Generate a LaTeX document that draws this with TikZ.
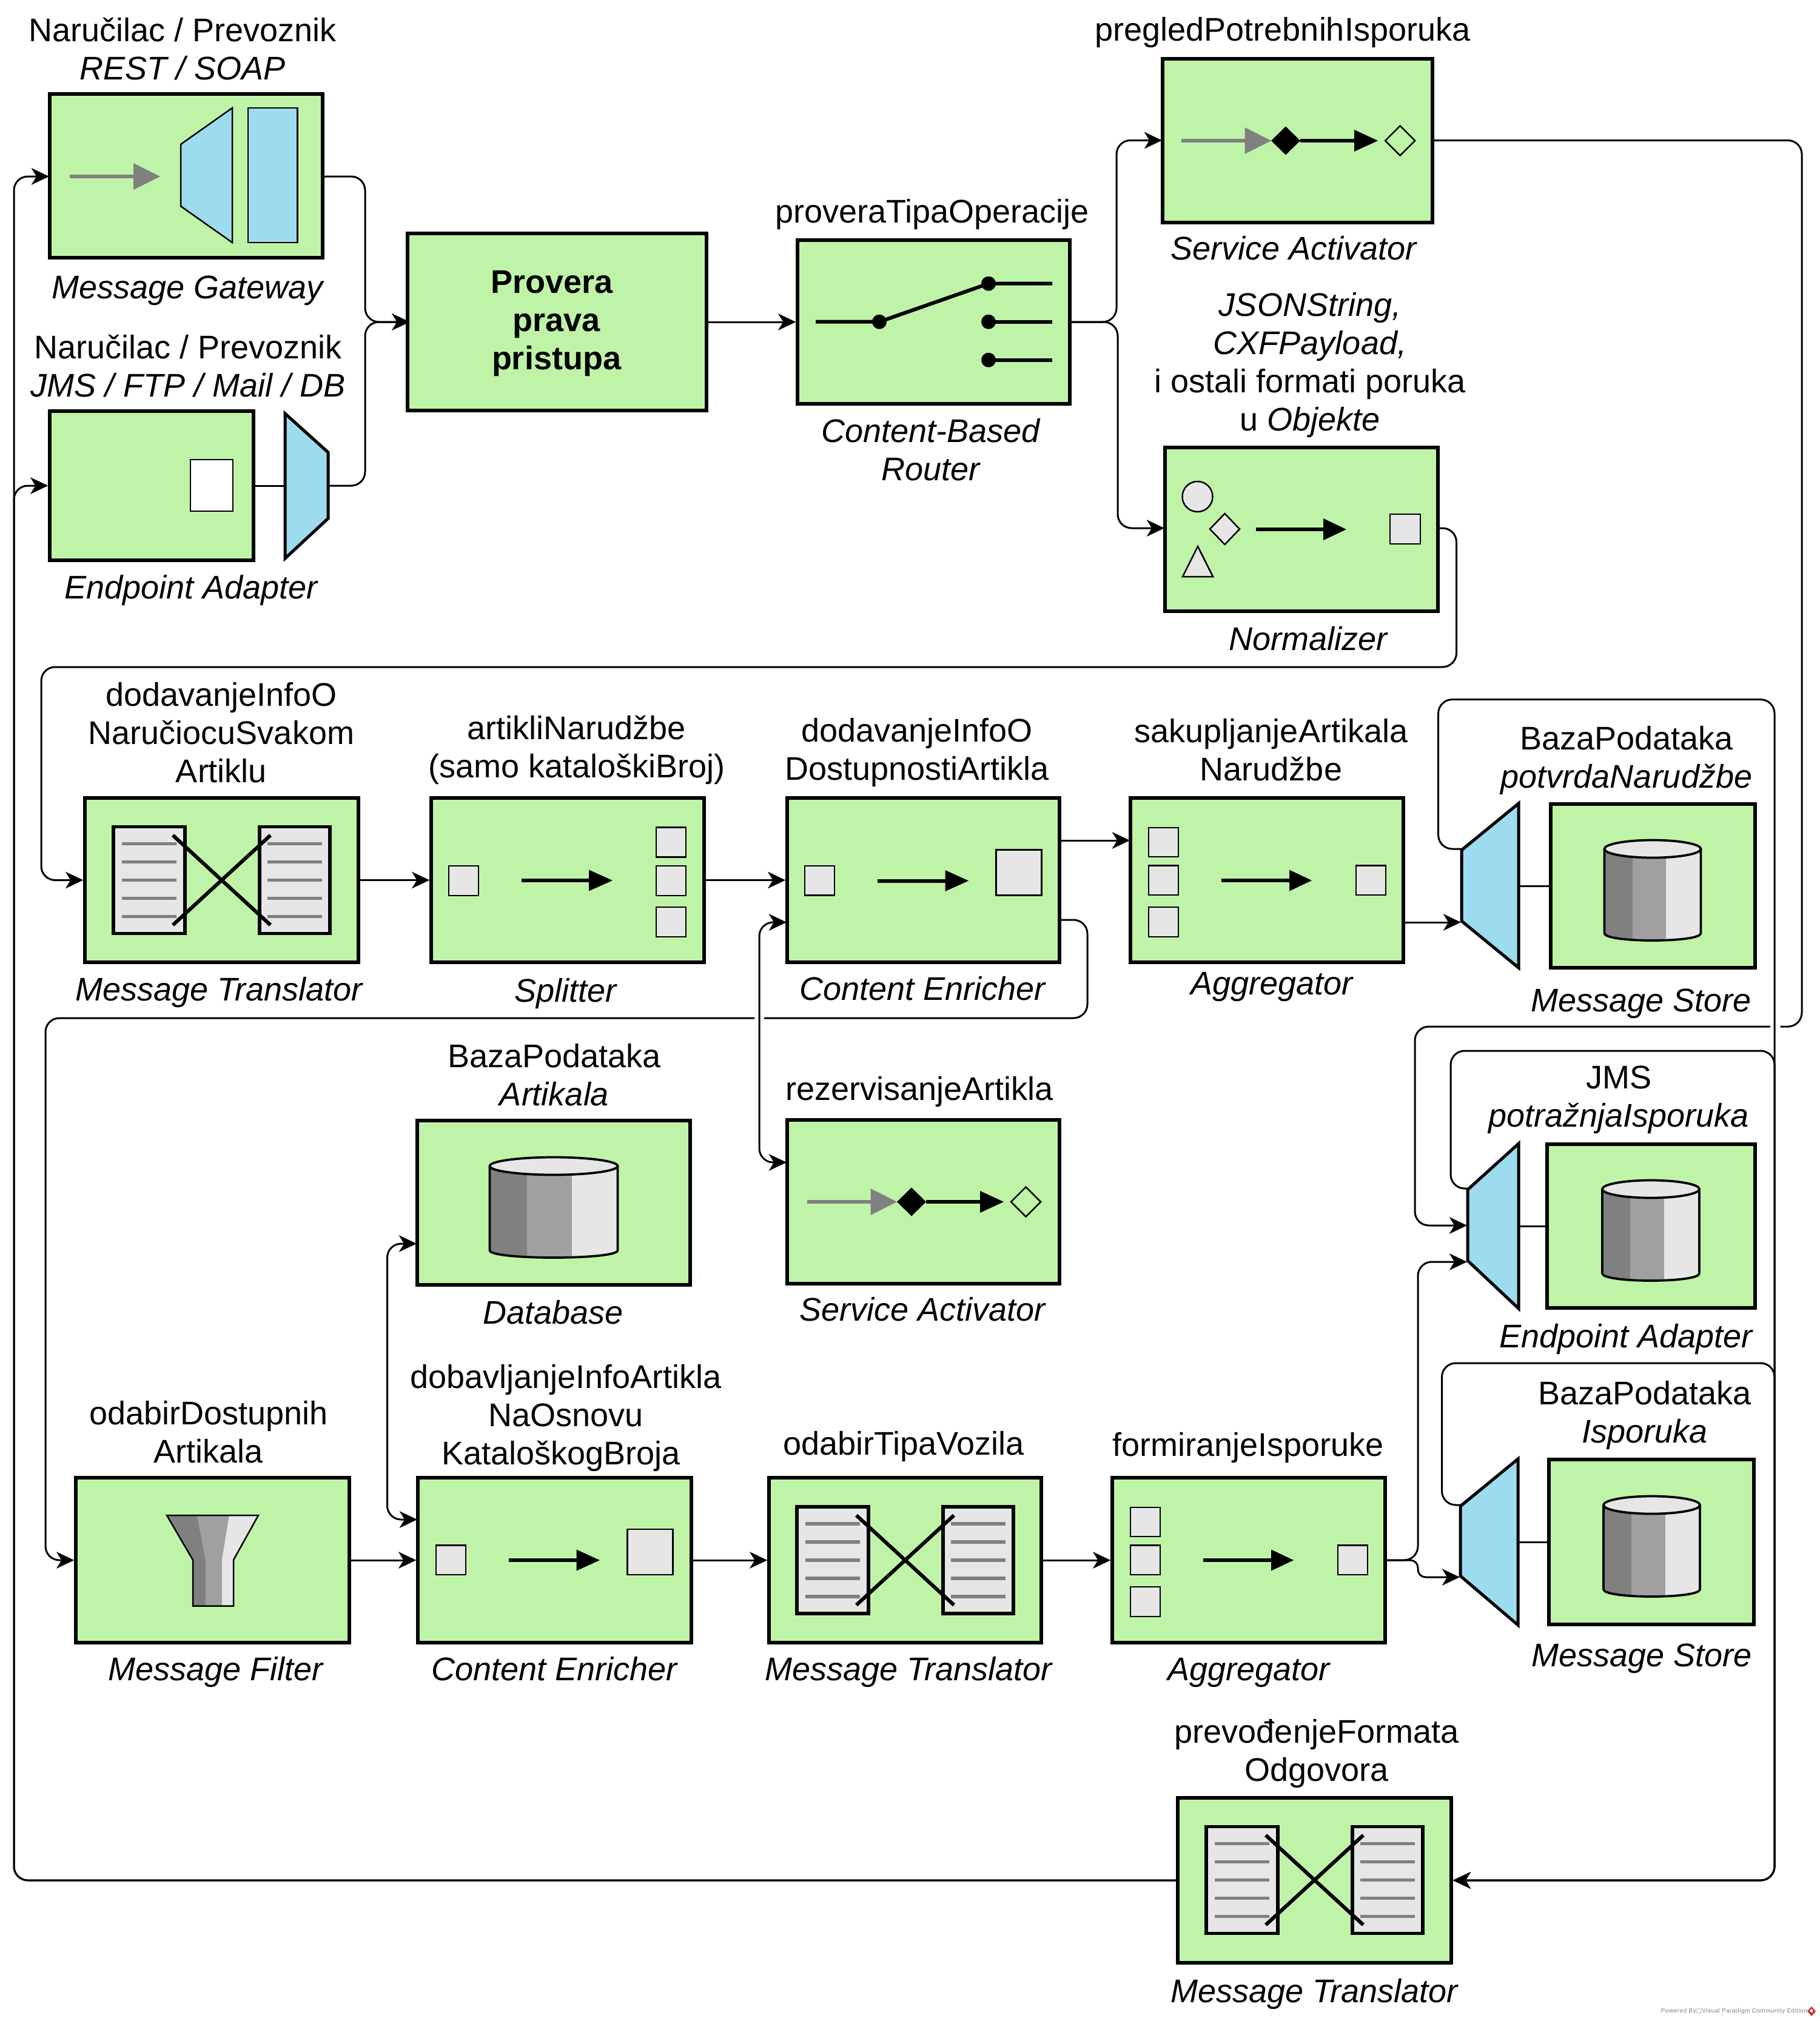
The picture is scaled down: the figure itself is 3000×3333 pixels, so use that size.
\documentclass[tikz,border=0pt]{standalone}
\usepackage{fontspec}
\setmainfont{Liberation Sans}
\newfontfamily\dejavufam{DejaVu Sans}
\newfontfamily\wmfont[LetterSpace=5]{Liberation Sans}
\usetikzlibrary{arrows.meta}
\definecolor{boxgreen}{HTML}{BFF4A8}
\definecolor{partblue}{HTML}{9DDBEF}
\definecolor{lightg}{HTML}{E6E6E6}
\definecolor{midg}{HTML}{A0A0A0}
\definecolor{darkg}{HTML}{808080}
\definecolor{logored}{HTML}{CC3333}
\newcommand{\lstruttop}{\rule{0pt}{15pt}}
\newcommand{\lstrutbot}{\rule[-3.84pt]{0pt}{3.84pt}}
\tikzset{
  eipbox/.style={draw=black,fill=boxgreen,line width=1.32pt,inner sep=0pt,outer sep=0.66pt},
  lbl/.style={inner sep=0pt,align=center,font=\fontsize{12.96}{15.12}\selectfont,
    execute at begin node=\lstruttop,execute at end node=\lstrutbot},
  conn/.style={draw=black,line width=0.72pt,rounded corners=5.5pt},
  plainline/.style={draw=black,line width=0.72pt},
  tip/.style={-{Stealth[length=7pt,width=6.6pt,inset=2pt]}},
  tips/.style={{Stealth[length=7pt,width=6.6pt,inset=2pt]}-{Stealth[length=7pt,width=6.6pt,inset=2pt]}},
  part/.style={draw=black,fill=lightg,line width=0.6pt},
  trapbig/.style={draw=black,fill=partblue,line width=1.2pt,miter limit=10},
}
\newcommand{\mybox}[5]{\node[eipbox,minimum width={(#4-#2-2)*0.24pt},minimum height={(#5-#3)*0.24pt}] (#1) at ({(#2+#4)/2},{(#3+#5)/2}) {};}
\newcommand{\lb}[4]{\node[lbl] (#1) at (#2,{#3-5}) {#4};}
\newcommand{\lbm}[4]{\node[lbl] (#1) at (#2,{#3+7.4}) {#4};}
% arrow: x1 x2 headstart y colour halfheight
\newcommand{\ikonArr}[6]{\draw[#5,line width=1.44pt] (#1,#4) -- (#3,#4); \fill[#5] (#3,{#4-#6}) -- (#2,#4) -- (#3,{#4+#6}) -- cycle;}
\newcommand{\sq}[4]{\draw[part] (#1,#2) rectangle (#3,#4);}
\newcommand{\ikonMT}[2]{\begin{scope}[shift={(#1,#2)}]
  \draw[draw=black,fill=lightg,line width=1.32pt] (-178.5,-88) rectangle (-60.5,88);
  \draw[draw=black,fill=lightg,line width=1.32pt] (62.5,-88) rectangle (178.5,88);
  \foreach \yy in {-60,-30,0,30,60}{
    \draw[darkg,line width=1.3pt] (-165,\yy) -- (-75,\yy);
    \draw[darkg,line width=1.3pt] (75,\yy) -- (165,\yy);}
  \draw[black,line width=1.44pt] (-80.5,-74) -- (80.5,74);
  \draw[black,line width=1.44pt] (80.5,-74) -- (-80.5,74);
\end{scope}}
\newcommand{\ikonSA}[2]{\begin{scope}[shift={(#1,#2)}]
  \ikonArr{-191.5}{-43.5}{-87}{0}{darkg}{22}
  \fill[black] (-43.5,0) -- (-19.5,-23.5) -- (4.5,0) -- (-19.5,23.5) -- cycle;
  \ikonArr{4.5}{132.5}{93.5}{0}{black}{18}
  \draw[black,line width=0.6pt] (144.5,0) -- (169,-24.5) -- (193.5,0) -- (169,24.5) -- cycle;
\end{scope}}
\newcommand{\ikonAgg}[2]{\begin{scope}[shift={(#1,#2)}]
  \sq{-195}{-87}{-146}{-39}\sq{-195}{-24.5}{-146}{24}\sq{-195}{44}{-146}{93}
  \ikonArr{-75}{74}{37}{0}{black}{17.5}
  \sq{147}{-24.5}{196}{24}
\end{scope}}
\newcommand{\ikonCE}[2]{\begin{scope}[shift={(#1,#2)}]
  \sq{-195.5}{-24.5}{-146.5}{24}
  \ikonArr{-75.5}{74.5}{36}{0}{black}{17.5}
  \sq{120}{-51}{195}{24}
\end{scope}}
\newcommand{\ikonCyl}[3]{\begin{scope}[shift={(#1,#2)}]
  \begin{scope}
    \clip (-#3,-61) -- (-#3,78) .. controls (-#3,94) and (#3,94) .. (#3,78) -- (#3,-61) -- cycle;
    \fill[darkg] (-#3,-80) rectangle ({-#3+0.58*#3},100);
    \fill[midg] ({-#3+0.58*#3},-80) rectangle ({-#3+1.28*#3},100);
    \fill[lightg] ({-#3+1.28*#3},-80) rectangle (#3,100);
  \end{scope}
  \draw[black,line width=0.9pt] (-#3,-61) -- (-#3,78) .. controls (-#3,94) and (#3,94) .. (#3,78) -- (#3,-61);
  \draw[black,fill=lightg,line width=0.9pt] (0,-61) ellipse [x radius=#3,y radius=14.5];
\end{scope}}
\begin{document}
\begin{tikzpicture}[x=0.24pt,y=-0.24pt]
\useasboundingbox (0,0) rectangle (3000,3333);
\fill[white] (0,0) rectangle (3000,3333);
% ---------- boxes
\mybox{gw}{81}{155}{533}{425}
\mybox{prov}{671}{385}{1166}{677}
\mybox{cbr}{1314}{396}{1765}{666}
\mybox{sao}{1916}{97}{2363}{367}
\mybox{norm}{1920}{738}{2372}{1008}
\mybox{ep}{81}{678}{419}{924}
\mybox{mto}{139}{1316}{592}{1587}
\mybox{spl}{710}{1316}{1162}{1587}
\mybox{ceo}{1297}{1316}{1748}{1587}
\mybox{ago}{1863}{1316}{2315}{1587}
\mybox{mso}{2556}{1326}{2895}{1596}
\mybox{dbb}{687}{1848}{1139}{2119}
\mybox{sat}{1297}{1847}{1748}{2117}
\mybox{adb}{2550}{1887}{2895}{2157}
\mybox{flt}{124}{2437}{577}{2709}
\mybox{cet}{688}{2437}{1141}{2709}
\mybox{mtt}{1267}{2437}{1718}{2709}
\mybox{agt}{1833}{2437}{2285}{2709}
\mybox{mst}{2553}{2407}{2893}{2679}
\mybox{mtf}{1941}{2965}{2394}{3237}
% ---------- gateway icon
\ikonArr{115}{264}{220}{291}{darkg}{22}
\draw[draw=black,fill=partblue,line width=0.6pt] (298,238) -- (383,178) -- (383,400) -- (298,340) -- cycle;
\draw[draw=black,fill=partblue,line width=0.6pt] (409,178) rectangle (490.5,400);
% endpoint icon
\draw[draw=black,fill=white,line width=0.6pt] (314,758) rectangle (384,843);
\draw[trapbig] (470,682) -- (541,746) -- (541,855) -- (470,921) -- cycle;
\coordinate (epout) at (543,801);
\coordinate (epin) at (470,801);
% router icon
\draw[black,line width=1.44pt] (1345,530.7) -- (1450,530.7) -- (1630,467.7) -- (1735,467.7);
\draw[black,line width=1.44pt] (1630,530.7) -- (1735,530.7);
\draw[black,line width=1.44pt] (1630,593.7) -- (1735,593.7);
\foreach \px/\py in {1450/530.7,1630/467.7,1630/530.7,1630/593.7}{\fill[black] (\px,\py) circle [radius=12];}
% service activators
\ikonSA{2139.5}{232}
\ikonSA{1522.5}{1982}
% normalizer
\draw[part] (1974.5,819) ellipse [x radius=25,y radius=25];
\draw[part] (1995,872.5) -- (2019.5,847) -- (2044,872.5) -- (2019.5,898) -- cycle;
\draw[part] (1975,901) -- (2000,951) -- (1950,951) -- cycle;
\ikonArr{2071}{2220}{2182}{873}{black}{18}
\sq{2292}{848}{2342}{897}
% translators
\ikonMT{365.5}{1451.5}
\ikonMT{1492.5}{2573}
\ikonMT{2167.5}{3100.5}
% splitter
\sq{740}{1428}{789}{1477}
\ikonArr{860}{1010}{971}{1452}{black}{17.5}
\sq{1082}{1364.5}{1131}{1413.5}
\sq{1082}{1428}{1131}{1477}
\sq{1082}{1496}{1131}{1545}
% enrichers, aggregators
\ikonCE{1522.5}{1452.5}
\ikonCE{914.5}{2573}
\ikonAgg{2089}{1452}
\ikonAgg{2059}{2573}
% databases
\ikonCyl{913}{1984}{105.5}
\ikonCyl{2725}{1461}{79.5}
\ikonCyl{2722}{2022}{80}
\ikonCyl{2723.5}{2543}{79.5}
% filter
\fill[darkg] (275,2499) -- (325,2499) -- (339,2572.6) -- (339,2648.5) -- (318,2648.5) -- (318,2572.6) -- cycle;
\fill[midg] (325,2499) -- (378,2499) -- (366,2572.6) -- (366,2648.5) -- (339,2648.5) -- (339,2572.6) -- cycle;
\fill[lightg] (378,2499) -- (426,2499) -- (385,2572.6) -- (385,2648.5) -- (366,2648.5) -- (366,2572.6) -- cycle;
\draw[black,line width=0.6pt] (275,2499) -- (426,2499) -- (385,2572.6) -- (385,2648.5) -- (318,2648.5) -- (318,2572.6) -- cycle;
% store trapezoids
\draw[trapbig] (2410,1402) -- (2504,1325) -- (2504,1596) -- (2410,1519) -- cycle;
\draw[trapbig] (2420,1962) -- (2504,1886) -- (2504,2158) -- (2420,2079) -- cycle;
\draw[trapbig] (2408,2484) -- (2503,2406) -- (2503,2680) -- (2408,2599) -- cycle;
\coordinate (tao) at (2506,1461);
\coordinate (tat) at (2410,1400);
\coordinate (tai) at (2409,1521);
\coordinate (tbo) at (2506,2022);
\coordinate (tbt) at (2420,1960);
\coordinate (tbi) at (2419,2021);
\coordinate (tbj) at (2419,2081);
\coordinate (tco) at (2505,2543);
\coordinate (tct) at (2408,2482);
\coordinate (tci) at (2407,2601);
% ---------- ports
\coordinate (gwin) at (81,291);
\coordinate (gwout) at (533,291);
\coordinate (saoin) at (1916,231.5);
\coordinate (saoout) at (2363,231.5);
\coordinate (normin) at (1920,871);
\coordinate (normout) at (2372,871);
\coordinate (ceoj) at (1297,1521);
\coordinate (ceou) at (1748,1386);
\coordinate (ceod) at (1748,1517);
\coordinate (ago1) at (1863,1386);
\coordinate (ago2) at (2315,1521);
\coordinate (satin) at (1297,1917);
\coordinate (dbin) at (687,2051);
\coordinate (cetu) at (688,2506);
\coordinate (gapal) at (1244,1679);
\coordinate (gapar) at (1260,1679);
\coordinate (gapbl) at (2919,1693);
\coordinate (gapbr) at (2935.5,1693);
% ---------- connectors
\draw[plainline] (ep.east) -- (epin);
\draw[plainline] (tao) -- (mso.west);
\draw[plainline] (tbo) -- (adb.west);
\draw[plainline] (tco) -- (mst.west);
\draw[conn,tip,shorten >=-1.5pt] (gwout) -- (602,291) -- (602,531) -- (prov.west);
\draw[conn,tip,shorten >=-1.5pt] (epout) -- (602,801) -- (602,531) -- (prov.west);
\draw[conn,tip] (prov.east) -- (cbr.west);
\draw[conn,tip] (cbr.east) -- (1841,531) -- (1841,231.5) -- (saoin);
\draw[conn,tip] (cbr.east) -- (1843,531) -- (1843,871) -- (normin);
\draw[conn,tip] (normout) -- (2401.5,871) -- (2401.5,1100) -- (68,1100) -- (68,1451.5) -- (mto.west);
\draw[conn,tip] (mto.east) -- (spl.west);
\draw[conn,tip] (spl.east) -- (ceo.west);
\draw[conn,tip] (ceou) -- (ago1);
\draw[conn,tip] (ago2) -- (tai);
\draw[conn,tips] (ceoj) -- (1252,1521) -- (1252,1917) -- (satin);
\draw[conn] (ceod) -- (1793,1517) -- (1793,1679) -- (gapar);
\draw[conn,tip] (gapal) -- (75,1679) -- (75,2573) -- (flt.west);
\draw[conn,tip] (flt.east) -- (cet.west);
\draw[conn,tip] (cet.east) -- (mtt.west);
\draw[conn,tip] (mtt.east) -- (agt.west);
\draw[conn,tips] (dbin) -- (638.5,2051) -- (638.5,2506) -- (cetu);
\draw[conn,tip] (agt.east) -- (2338,2573) -- (2338,2081) -- (tbj);
\draw[conn,tip,rounded corners=3pt] (agt.east) -- (2338,2573) -- (2338,2601) -- (tci);
\draw[conn] (saoout) -- (2971,231.5) -- (2971,1693) -- (gapbr);
\draw[conn,tip] (gapbl) -- (2333,1693) -- (2333,2021) -- (tbi);
\draw[conn,tip] (tat) -- (2371.6,1400) -- (2371.6,1153.6) -- (2926,1153.6) -- (2926,3101) -- (mtf.east);
\draw[conn,tip] (tbt) -- (2392,1960) -- (2392,1733) -- (2926,1733) -- (2926,3101) -- (mtf.east);
\draw[conn,tip] (tct) -- (2377.5,2482) -- (2377.5,2248) -- (2926,2248) -- (2926,3101) -- (mtf.east);
\draw[conn,tip] (mtf.west) -- (23,3101) -- (23,291) -- (gwin);
\draw[conn,tip] (mtf.west) -- (23,3101) -- (23,801) -- (ep.west);
% ---------- labels
\node[lbl,font=\fontsize{12.96}{15.12}\selectfont\bfseries] (provt) at (917.5,535.5) {Provera\hspace*{3.4pt}\\prava\hspace*{3.4pt}\\pristupa};
\lbm{la}{301}{81}{Naručilac / Prevoznik\\\textit{REST / SOAP}}
\lb{lb}{310}{474}{\textit{Message Gateway}}
\lbm{lc}{310}{603.5}{Naručilac / Prevoznik\\\textit{JMS / FTP / Mail / DB}}
\lb{ld}{316}{969}{\textit{Endpoint Adapter}}
\lb{le}{1537}{349}{proveraTipaOperacije}
\lbm{lf}{1535}{742}{\textit{Content-Based}\\\textit{Router}}
\lb{lg}{2115}{49}{pregledPotrebnihIsporuka}
\lb{lh}{2134}{410}{\textit{Service Activator}}
\lbm{li}{2160}{597.5}{\textit{JSONString,}\\\textit{CXFPayload,}\\i ostali formati poruka\\u \textit{Objekte}}
\lb{lj}{2158}{1054}{\textit{Normalizer}}
\lbm{lk}{365}{1209}{dodavanjeInfoO\\NaručiocuSvakom\\Artiklu}
\lbm{ll}{951}{1231.5}{artikliNarudžbe\\(samo kataloškiBroj)}
\lbm{lm}{1512}{1236}{dodavanjeInfoO\\DostupnostiArtikla}
\lbm{ln}{2096}{1237}{sakupljanjeArtikala\\Narudžbe}
\lbm{lo}{2682}{1249.5}{BazaPodataka\\\textit{potvrdaNarudžbe}}
\lb{lp}{362}{1632}{\textit{Message Translator}}
\lb{lq}{933}{1634}{\textit{Splitter}}
\lb{lr}{1522}{1631}{\textit{Content Enricher}}
\lb{ls}{2098}{1622}{\textit{Aggregator}}
\lb{lt}{2706}{1650}{\textit{Message Store}}
\lbm{lu}{914}{1773}{BazaPodataka\\\textit{Artikala}}
\lb{lv}{912}{2165}{\textit{Database}}
\lb{lw}{1516}{1796}{rezervisanjeArtikla}
\lb{lx}{1522}{2160}{\textit{Service Activator}}
\lbm{ly}{2669}{1809}{JMS\\\textit{potražnjaIsporuka}}
\lb{lz}{2682}{2204}{\textit{Endpoint Adapter}}
\lbm{maa}{933}{2334}{dobavljanjeInfoArtikla\\NaOsnovu\\KataloškogBroja\hspace*{3.8pt}}
\lbm{mab}{344}{2362}{odabirDostupnih\\Artikala}
\lb{mac}{1490}{2381}{odabirTipaVozila}
\lb{mad}{2058}{2383}{formiranjeIsporuke}
\lbm{mae}{2712}{2329}{BazaPodataka\\\textit{Isporuka}}
\lb{maf}{356}{2753}{\textit{Message Filter}}
\lb{mag}{915}{2753}{\textit{Content Enricher}}
\lb{mah}{1499}{2753}{\textit{Message Translator}}
\lb{mai}{2060}{2753}{\textit{Aggregator}}
\lb{maj}{2707}{2730}{\textit{Message Store}}
\lbm{mak}{2171}{2887}{prevođenjeFormata\\Odgovora}
\lb{mal}{2168}{3284}{\textit{Message Translator}}
% ---------- watermark
\node[inner sep=0pt,text=darkg,font=\fontsize{2.4}{3}\wmfont] (wm) at (2859.5,3317) {Powered By{\dejavufam □}Visual Paradigm Community Edition};
\fill[logored] (2987,3309) -- (2994,3317) -- (2987,3325) -- (2980,3317) -- cycle;
\fill[white] (2987,3313) -- (2990,3316) -- (2987,3319) -- (2984,3316) -- cycle;
\end{tikzpicture}
\end{document}
